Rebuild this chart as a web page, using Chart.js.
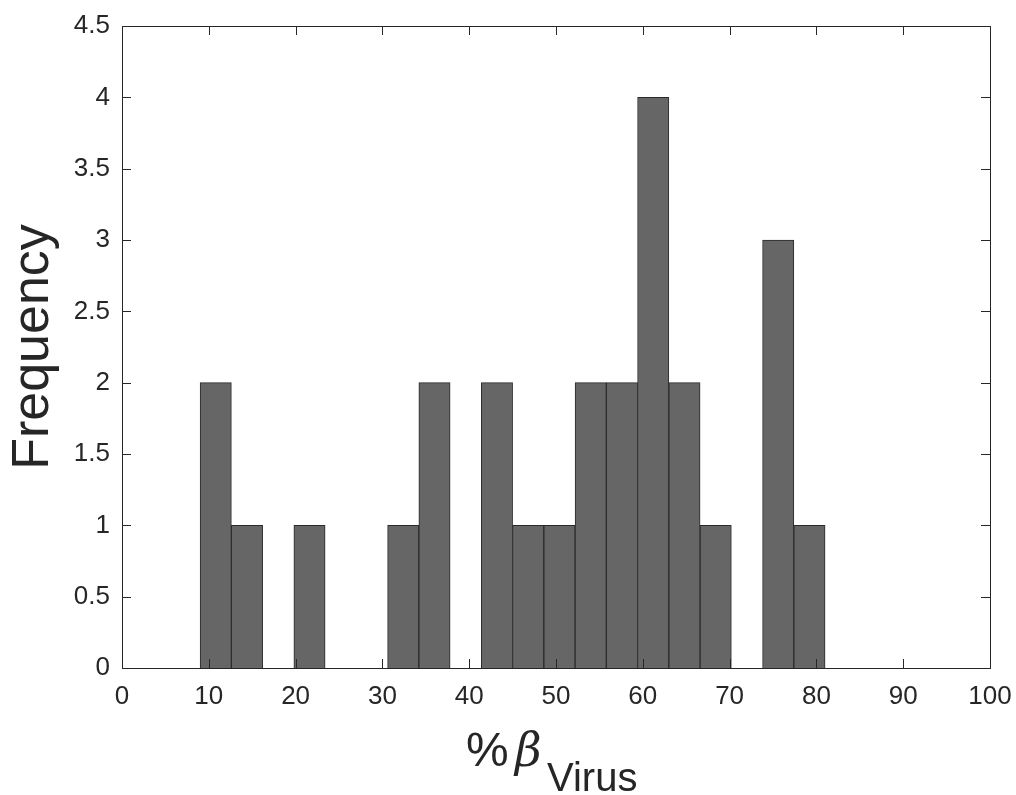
<!DOCTYPE html>
<html>
<head>
<meta charset="utf-8">
<script src="https://cdn.jsdelivr.net/npm/chart.js@4/dist/chart.umd.min.js"></script>
<style>
  body { margin: 0; background: #fff; }
  #wrap { width: 1016px; height: 795px; }
</style>
</head>
<body>
<div id="wrap"><canvas id="myChart" width="1016" height="795"></canvas></div>
<script>
// histogram bins (centres, width 3.6) and counts
let binCenters = [10.8, 14.4, 18, 21.6, 25.2, 28.8, 32.4, 36, 39.6, 43.2, 46.8, 50.4, 54, 57.6, 61.2, 64.8, 68.4, 72, 75.6, 79.2];
let counts = [2, 1, 0, 1, 0, 0, 1, 2, 0, 2, 1, 1, 2, 2, 4, 2, 1, 0, 3, 1];
let xTicks = [0, 10, 20, 30, 40, 50, 60, 70, 80, 90, 100];
let yTicks = [0, 0.5, 1, 1.5, 2, 2.5, 3, 3.5, 4, 4.5];

const axisColor = "#262626";
const font = "'Liberation Sans', Arial, sans-serif";

// matlab style box with inward ticks on all four sides
const boxTicks = {
  id: "boxTicks",
  afterDraw(chart) {
    let { ctx, chartArea: a, scales } = chart;
    let len = 9;
    ctx.save();
    ctx.strokeStyle = axisColor;
    ctx.lineWidth = 1;
    ctx.beginPath();
    scales.x.ticks.forEach(t => {
      let px = Math.round(scales.x.getPixelForValue(t.value)) + 0.5;
      ctx.moveTo(px, a.bottom); ctx.lineTo(px, a.bottom - len);
      ctx.moveTo(px, a.top); ctx.lineTo(px, a.top + len);
    });
    scales.y.ticks.forEach(t => {
      let py = Math.round(scales.y.getPixelForValue(t.value)) + 0.5;
      ctx.moveTo(a.left, py); ctx.lineTo(a.left + len, py);
      ctx.moveTo(a.right, py); ctx.lineTo(a.right - len, py);
    });
    ctx.stroke();
    ctx.strokeRect(Math.round(a.left) + 0.5, Math.round(a.top) + 0.5,
      Math.round(a.right - a.left), Math.round(a.bottom - a.top));
    ctx.restore();
  }
};

// x label: %β with subscript "Virus"
const xLabel = {
  id: "xLabel",
  afterDraw(chart) {
    let ctx = chart.ctx;
    ctx.save();
    ctx.fillStyle = axisColor;
    ctx.textBaseline = "alphabetic";
    ctx.textAlign = "left";
    ctx.font = "48px " + font;
    ctx.fillText("%", 466, 766);
    ctx.font = "italic 46px 'DejaVu Serif', serif";
    ctx.fillText("β", 515, 766);
    ctx.font = "40px " + font;
    ctx.fillText("Virus", 547, 791);
    ctx.restore();
  }
};

let ctx = document.getElementById("myChart").getContext("2d");

let myChart = new Chart(ctx, {
  type: "bar",
  data: {
    datasets: [{
      data: binCenters.map((c, i) => ({ x: c, y: counts[i] })),
      backgroundColor: "#666666",
      borderColor: "#2a2a2a",
      borderWidth: 1,
      barPercentage: 1,
      categoryPercentage: 1
    }]
  },
  options: {
    responsive: false,
    animation: false,
    layout: { padding: { top: 26, right: 26, left: 0, bottom: 0 } },
    plugins: { legend: { display: false }, tooltip: { enabled: false } },
    scales: {
      x: {
        type: "linear",
        offset: false,
        min: 0,
        max: 100,
        afterBuildTicks: s => { s.ticks = xTicks.map(v => ({ value: v })); },
        afterFit: s => { s.height = 127; s.paddingLeft = 0; s.paddingRight = 0; },
        grid: { display: false, drawTicks: false, offset: false },
        border: { display: false },
        ticks: { color: axisColor, font: { family: font, size: 26 }, padding: 13, maxRotation: 0 }
      },
      y: {
        min: 0,
        max: 4.5,
        afterBuildTicks: s => { s.ticks = yTicks.map(v => ({ value: v })); },
        afterFit: s => { s.width = 122; s.paddingTop = 0; s.paddingBottom = 0; },
        grid: { display: false, drawTicks: false },
        border: { display: false },
        ticks: { color: axisColor, font: { family: font, size: 26 }, padding: 12, callback: v => String(v) },
        title: {
          display: true,
          text: "Frequency",
          color: axisColor,
          font: { family: font, size: 52, lineHeight: 1 },
          padding: { top: 8, bottom: 0 }
        }
      }
    }
  },
  plugins: [boxTicks, xLabel]
});
</script>
</body>
</html>
